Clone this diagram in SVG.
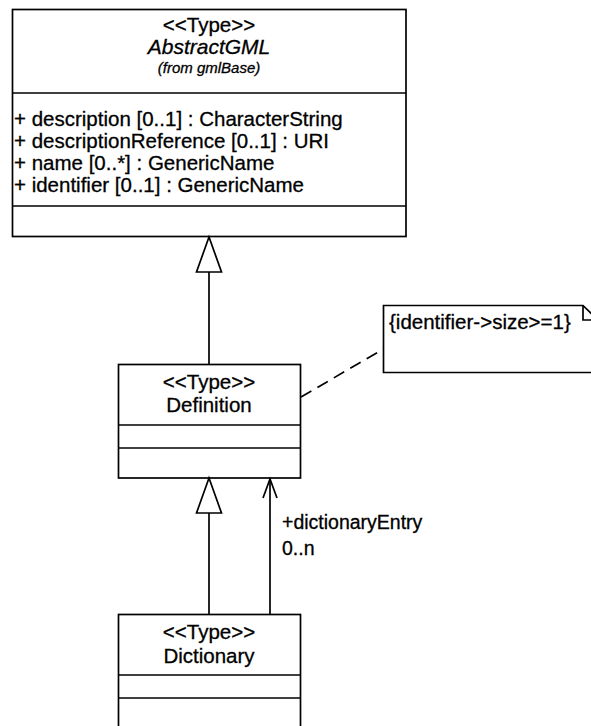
<svg xmlns="http://www.w3.org/2000/svg" width="591" height="726" viewBox="0 0 591 726">
<style>
.box{fill:#fff;stroke:#000;stroke-width:1.7}
.ln{fill:none;stroke:#000;stroke-width:1.7}
.tri{fill:#fff;stroke:#000;stroke-width:1.7;stroke-linejoin:miter}
text{font-family:"Liberation Sans",Arial,sans-serif;fill:#000;stroke:#000;stroke-width:0.3}
.hd{font-size:20.5px;text-anchor:middle}
.it{font-style:italic}
.at{font-size:20.5px}
</style>
<rect width="591" height="726" fill="#fff"/>
<g id="AbstractGML">
<rect class="box" x="12.5" y="9.5" width="393.5" height="227"/>
<line class="ln" x1="12.5" y1="93" x2="406" y2="93"/>
<line class="ln" x1="12.5" y1="206" x2="406" y2="206"/>
<text class="hd" x="209" y="32">&lt;&lt;Type&gt;&gt;</text>
<text class="hd it" x="209" y="54" style="font-size:21px">AbstractGML</text>
<text class="hd it" x="209" y="73" style="font-size:15px">(from gmlBase)</text>
<text class="at" x="14" y="126">+ description [0..1] : CharacterString</text>
<text class="at" x="14" y="148">+ descriptionReference [0..1] : URI</text>
<text class="at" x="14" y="170">+ name [0..*] : GenericName</text>
<text class="at" x="14" y="192">+ identifier [0..1] : GenericName</text>
</g>
<g id="Definition">
<rect class="box" x="118.5" y="364.5" width="182" height="113.5"/>
<line class="ln" x1="118.5" y1="425" x2="300.5" y2="425"/>
<line class="ln" x1="118.5" y1="448" x2="300.5" y2="448"/>
<text class="hd" x="209" y="389">&lt;&lt;Type&gt;&gt;</text>
<text class="hd" x="209" y="412">Definition</text>
</g>
<g id="Dictionary">
<rect class="box" x="118.5" y="614.5" width="182" height="120"/>
<line class="ln" x1="118.5" y1="675" x2="300.5" y2="675"/>
<line class="ln" x1="118.5" y1="698" x2="300.5" y2="698"/>
<text class="hd" x="209" y="639">&lt;&lt;Type&gt;&gt;</text>
<text class="hd" x="209" y="663">Dictionary</text>
</g>
<g id="Note">
<path class="box" d="M383.5,305.5 H583 L598,320 V372.5 H383.5 Z"/>
<path class="ln" d="M583,305.5 V320 H598"/>
<text class="at" x="389" y="329">{identifier-&gt;size&gt;=1}</text>
</g>
<g id="connectors">
<line class="ln" x1="209" y1="272" x2="209" y2="364.5"/>
<polygon class="tri" points="209,237 196.5,272 221.5,272"/>
<line class="ln" x1="209" y1="513" x2="209" y2="614.5"/>
<polygon class="tri" points="209,478 196.5,513 221.5,513"/>
<line class="ln" x1="270" y1="479" x2="270" y2="614.5"/>
<polyline class="ln" points="263,498 270,479 277,498"/>
<line class="ln" x1="301" y1="397" x2="383.5" y2="349" stroke-dasharray="12 7"/>
<text class="at" x="282" y="529" style="font-size:19.5px">+dictionaryEntry</text>
<text class="at" x="282" y="555" style="font-size:19.5px">0..n</text>
</g>
</svg>
